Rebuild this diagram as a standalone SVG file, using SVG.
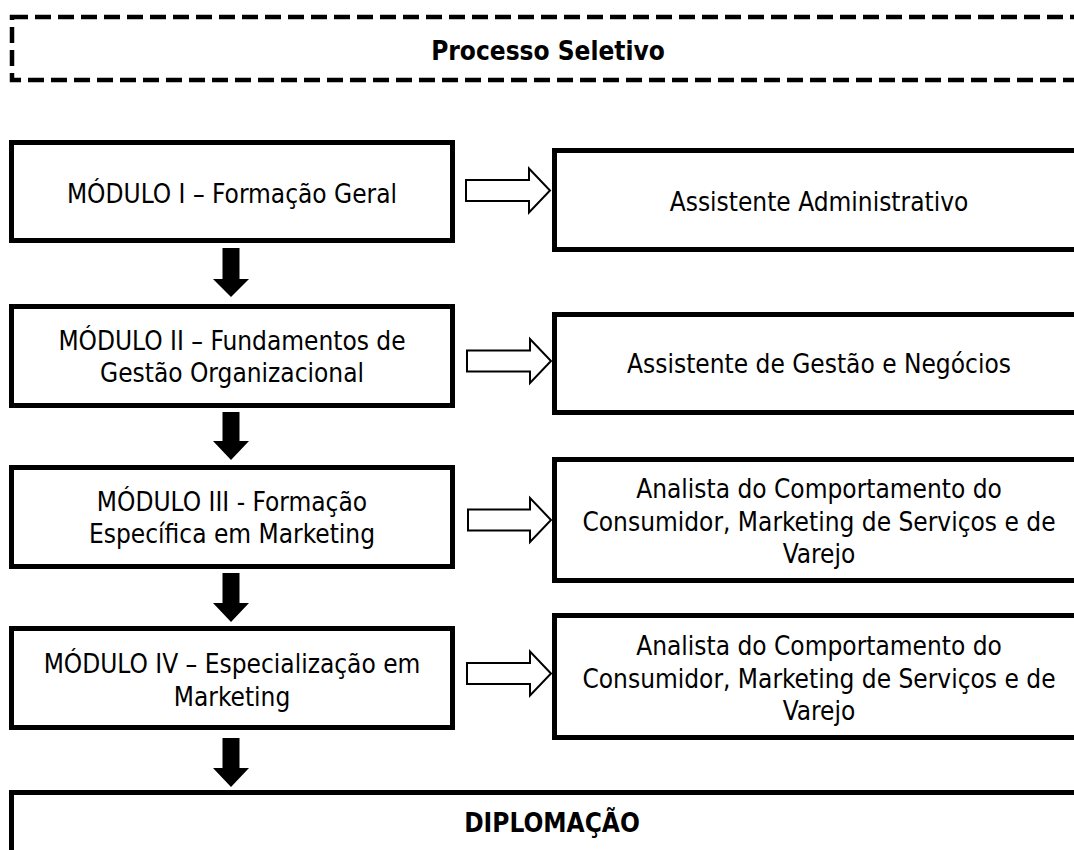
<svg xmlns="http://www.w3.org/2000/svg" width="1074" height="850" viewBox="0 0 1074 850">
<style>
.box{fill:#fff;stroke:#000;stroke-width:5}
.dash{fill:none;stroke:#000;stroke-width:4.5;stroke-dasharray:16 7}
.t{font-family:"DejaVu Sans Condensed","DejaVu Sans",sans-serif;font-stretch:condensed;font-size:26px;fill:#000;text-anchor:middle}
.b{font-weight:bold}
.hollow{fill:#fff;stroke:#000;stroke-width:2;stroke-linejoin:miter}
.solid{fill:#000}
</style>
<rect width="1074" height="850" fill="#fff"/>
<g id="processo">
<rect class="dash" x="12" y="17" width="1100" height="63"/>
<text class="t b" x="548" y="60">Processo Seletivo</text>
</g>
<g id="modulo1">
<rect class="box" x="11.5" y="142.5" width="441" height="98"/>
<text class="t" x="232" y="203">MÓDULO I – Formação Geral</text>
</g>
<g id="modulo2">
<rect class="box" x="11.5" y="306.5" width="441" height="99"/>
<text class="t" x="232" y="349.5">MÓDULO II – Fundamentos de</text>
<text class="t" x="232" y="382">Gestão Organizacional</text>
</g>
<g id="modulo3">
<rect class="box" x="11.5" y="467.5" width="441" height="99"/>
<text class="t" x="232" y="510.5">MÓDULO III - Formação</text>
<text class="t" x="232" y="543">Específica em Marketing</text>
</g>
<g id="modulo4">
<rect class="box" x="11.5" y="628.5" width="441" height="99"/>
<text class="t" x="232" y="672.5">MÓDULO IV – Especialização em</text>
<text class="t" x="232" y="705.5">Marketing</text>
</g>
<g id="assistente-adm">
<rect class="box" x="554.5" y="150.5" width="540" height="99"/>
<text class="t" x="819" y="211">Assistente Administrativo</text>
</g>
<g id="assistente-gestao">
<rect class="box" x="554.5" y="314.5" width="540" height="98"/>
<text class="t" x="819" y="373">Assistente de Gestão e Negócios</text>
</g>
<g id="analista1">
<rect class="box" x="554.5" y="459.5" width="540" height="121"/>
<text class="t" x="819" y="498">Analista do Comportamento do</text>
<text class="t" x="819" y="530.5">Consumidor, Marketing de Serviços e de</text>
<text class="t" x="819" y="563">Varejo</text>
</g>
<g id="analista2">
<rect class="box" x="554.5" y="615.5" width="540" height="122"/>
<text class="t" x="819" y="655">Analista do Comportamento do</text>
<text class="t" x="819" y="687.5">Consumidor, Marketing de Serviços e de</text>
<text class="t" x="819" y="720">Varejo</text>
</g>
<g id="diplomacao">
<rect class="box" x="11.5" y="792.5" width="1100" height="100"/>
<text class="t b" x="552" y="832">DIPLOMAÇÃO</text>
</g>
<g id="connectors">
<polygon class="hollow" points="466,180 529,180 529,168.5 550,190.5 529,212.5 529,201 466,201"/>
<polygon class="hollow" points="467,350.5 530,350.5 530,339 551,361 530,383 530,371.5 467,371.5"/>
<polygon class="hollow" points="468,509.5 530,509.5 530,498 551,520 530,542 530,530.5 468,530.5"/>
<polygon class="hollow" points="467,663 530,663 530,651.5 551,673.5 530,695.5 530,684 467,684"/>
<polygon class="solid" points="222.5,248 239.5,248 239.5,279 249,279 231,297 213,279 222.5,279"/>
<polygon class="solid" points="222.5,412 239.5,412 239.5,441 249,441 231,460 213,441 222.5,441"/>
<polygon class="solid" points="222.5,573 239.5,573 239.5,603 249,603 231,622 213,603 222.5,603"/>
<polygon class="solid" points="222.5,738 239.5,738 239.5,768 249,768 231,787 213,768 222.5,768"/>
</g>
</svg>
